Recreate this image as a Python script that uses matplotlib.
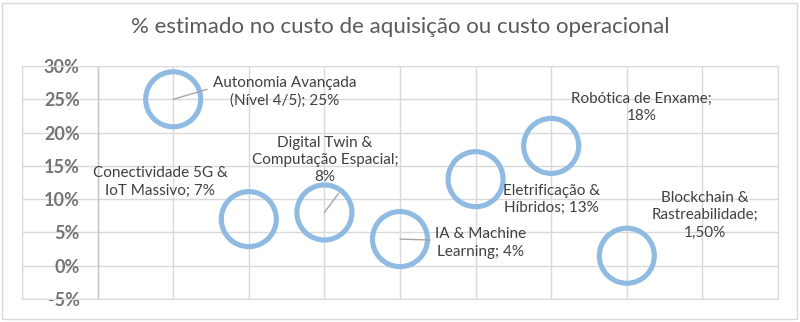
import matplotlib
matplotlib.use("Agg")
import matplotlib.pyplot as plt
from matplotlib.patches import Rectangle
from matplotlib.ticker import FuncFormatter

# ---- data ----
categories = [
    "Autonomia Avançada\n(Nível 4/5); 25%",
    "Conectividade 5G &\nIoT Massivo; 7%",
    "Digital Twin &\nComputação Espacial;\n8%",
    "IA & Machine\nLearning; 4%",
    "Eletrificação &\nHíbridos; 13%",
    "Robótica de Enxame;\n18%",
    "Blockchain &\nRastreabilidade;\n1,50%",
]
x_values = [1, 2, 3, 4, 5, 6, 7]
y_values = [25, 7, 8, 4, 13, 18, 1.5]
y_ticks = [-5, 0, 5, 10, 15, 20, 25, 30]

# ---- layout of labels (data coords) ----
label_pos = [(2.48, 26.1), (0.83, 12.6), (3.01, 15.9), (5.06, 3.4),
             (6.0, 10.0), (7.2, 23.8), (8.03, 7.6)]
leader_end = [(1.45, 26.5), None, (3.19, 10.9), (4.40, 3.86), None, None, None]

FONT = ["Lato", "DejaVu Sans"]
plt.rcParams["font.family"] = FONT

fig = plt.figure(figsize=(8, 3.22), dpi=100)
ax = fig.add_axes([0.0275, 0.0714, 0.945, 0.7236])

grid_c = "#d9d9d9"
ax.set_xlim(-1, 9)
ax.set_ylim(-5, 30)
ax.set_xticks(range(-1, 10))
ax.set_yticks(y_ticks)
ax.grid(True, color=grid_c, lw=1)
ax.set_axisbelow(True)
for s in ["top", "right", "bottom", "left"]:
    ax.spines[s].set_color(grid_c)
ax.axvline(0, color="#c8c8c8", lw=1, zorder=1)
ax.tick_params(axis="x", length=0, labelbottom=False)
ax.tick_params(axis="y", length=0, pad=-41.5, labelsize=13, labelcolor="#747474")
for t in ax.get_yticklabels():
    t.set_fontweight("bold")
ax.yaxis.set_major_formatter(FuncFormatter(lambda v, p: f"{int(v)}%"))

ax.scatter(x_values, y_values, s=1570, facecolors="none",
           edgecolors="#8fbbe3", linewidths=3.7, zorder=3)

for i, (lab, (lx, ly)) in enumerate(zip(categories, label_pos)):
    ax.text(lx, ly, lab, ha="center", va="center", fontsize=11,
            color="#404040", linespacing=1.3, zorder=4)
    if leader_end[i] is not None:
        ax.annotate("", xy=(x_values[i], y_values[i]), xytext=leader_end[i],
                    arrowprops=dict(arrowstyle="-", color="#a6a6a6", lw=1,
                                    shrinkA=0, shrinkB=0), zorder=4)

fig.text(0.5, 1 - 27 / 322, "% estimado no custo de aquisição ou custo operacional",
         ha="center", va="center", fontsize=16, color="#595959")

fig.patches.append(Rectangle((2 / 800, 3 / 322), 795 / 800, 316 / 322,
                             transform=fig.transFigure, fill=False,
                             edgecolor="#d9d9d9", lw=1))

fig.savefig("out.png", dpi=100)
